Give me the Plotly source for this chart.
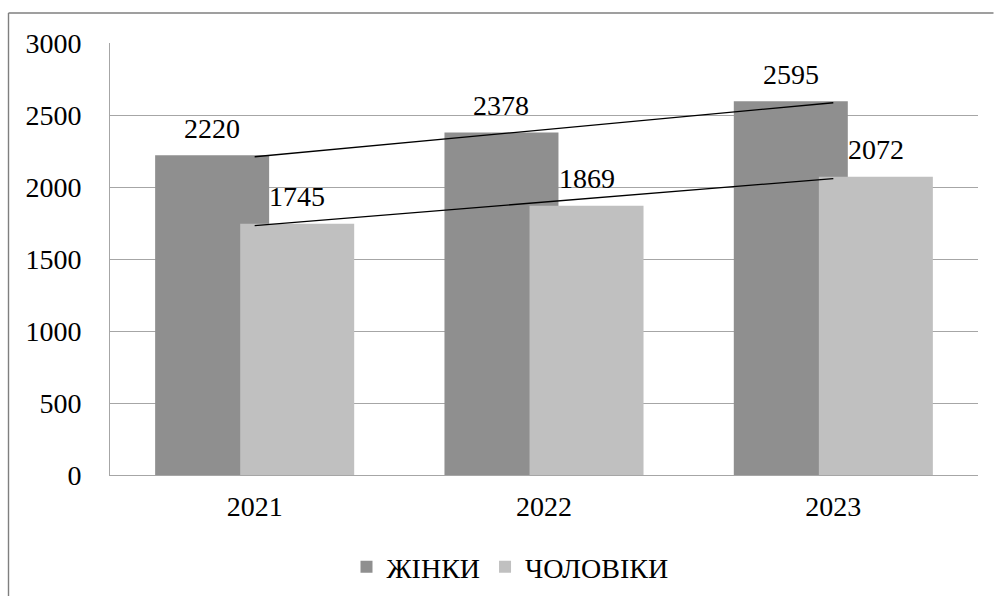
import numpy as np
import plotly.graph_objects as go

years = ["2021", "2022", "2023"]
women = [2220, 2378, 2595]
men = [1745, 1869, 2072]
series_names = ["ЖІНКИ", "ЧОЛОВІКИ"]

W, H = 994, 596
ML, MR, MT, MB = 110, 16, 43, 121
PW, PH = W - ML - MR, H - MT - MB

FONT = "Liberation Serif, DejaVu Serif, serif"
FS = 28
DARK, LIGHT = "#8f8f8f", "#c0c0c0"
GRID = "#a6a6a6"

xs = np.arange(len(years))
bw = 0.394
offs = [-0.344, -0.050]

fig = go.Figure()
for name, vals, col, off in [(series_names[0], women, DARK, offs[0]),
                             (series_names[1], men, LIGHT, offs[1])]:
    fig.add_trace(go.Bar(x=xs, y=vals, name=name, marker_color=col,
                         marker_line_width=0, width=bw, offset=off))

# linear trend lines
for vals in (women, men):
    k, b = np.polyfit(xs, vals, 1)
    fig.add_trace(go.Scatter(x=[xs[0], xs[-1]], y=[k * xs[0] + b, k * xs[-1] + b],
                             mode="lines", line=dict(color="black", width=1.3),
                             showlegend=False, hoverinfo="skip"))

annotations = []
for vals, off in ((women, offs[0]), (men, offs[1])):
    for i, v in enumerate(vals):
        annotations.append(dict(x=xs[i] + off + bw / 2, y=v, text=str(v),
                                showarrow=False, yshift=27, xref="x", yref="y",
                                font=dict(family=FONT, size=FS, color="black")))

def px2paper_x(p):
    return (p - ML) / PW

def px2paper_y(p):
    return (H - MB - p) / PH

# outer chart border (left and top edges visible)
border = dict(color="#7f7f7f", width=1.4)
fig.add_shape(type="line", xref="paper", yref="paper",
              x0=px2paper_x(8.5), x1=px2paper_x(8.5),
              y0=px2paper_y(H + 5), y1=px2paper_y(13), line=border)
fig.add_shape(type="line", xref="paper", yref="paper",
              x0=px2paper_x(8.5), x1=px2paper_x(W - 0.5),
              y0=px2paper_y(13), y1=px2paper_y(13), line=border)

fig.update_layout(
    width=W, height=H,
    margin=dict(l=ML, r=MR, t=MT, b=MB, autoexpand=False),
    paper_bgcolor="white", plot_bgcolor="white",
    barmode="overlay",
    font=dict(family=FONT, size=FS, color="black"),
    annotations=annotations,
    showlegend=True,
    legend=dict(orientation="h", x=px2paper_x(510), xanchor="center",
                y=px2paper_y(567), yanchor="middle",
                font=dict(family=FONT, size=FS, color="black"),
                itemwidth=30, traceorder="normal"),
    xaxis=dict(range=[-0.5, 2.5], tickvals=list(xs), ticktext=years,
               showgrid=False, zeroline=False, showline=True,
               linecolor=GRID, linewidth=1, ticks="", ticklabelstandoff=6),
    yaxis=dict(range=[0, 3000], dtick=500, showgrid=True, gridcolor=GRID,
               gridwidth=1, zeroline=False, showline=True, linecolor=GRID,
               linewidth=1, ticks="", ticklabelstandoff=22),
)

fig.write_html("out.html")
